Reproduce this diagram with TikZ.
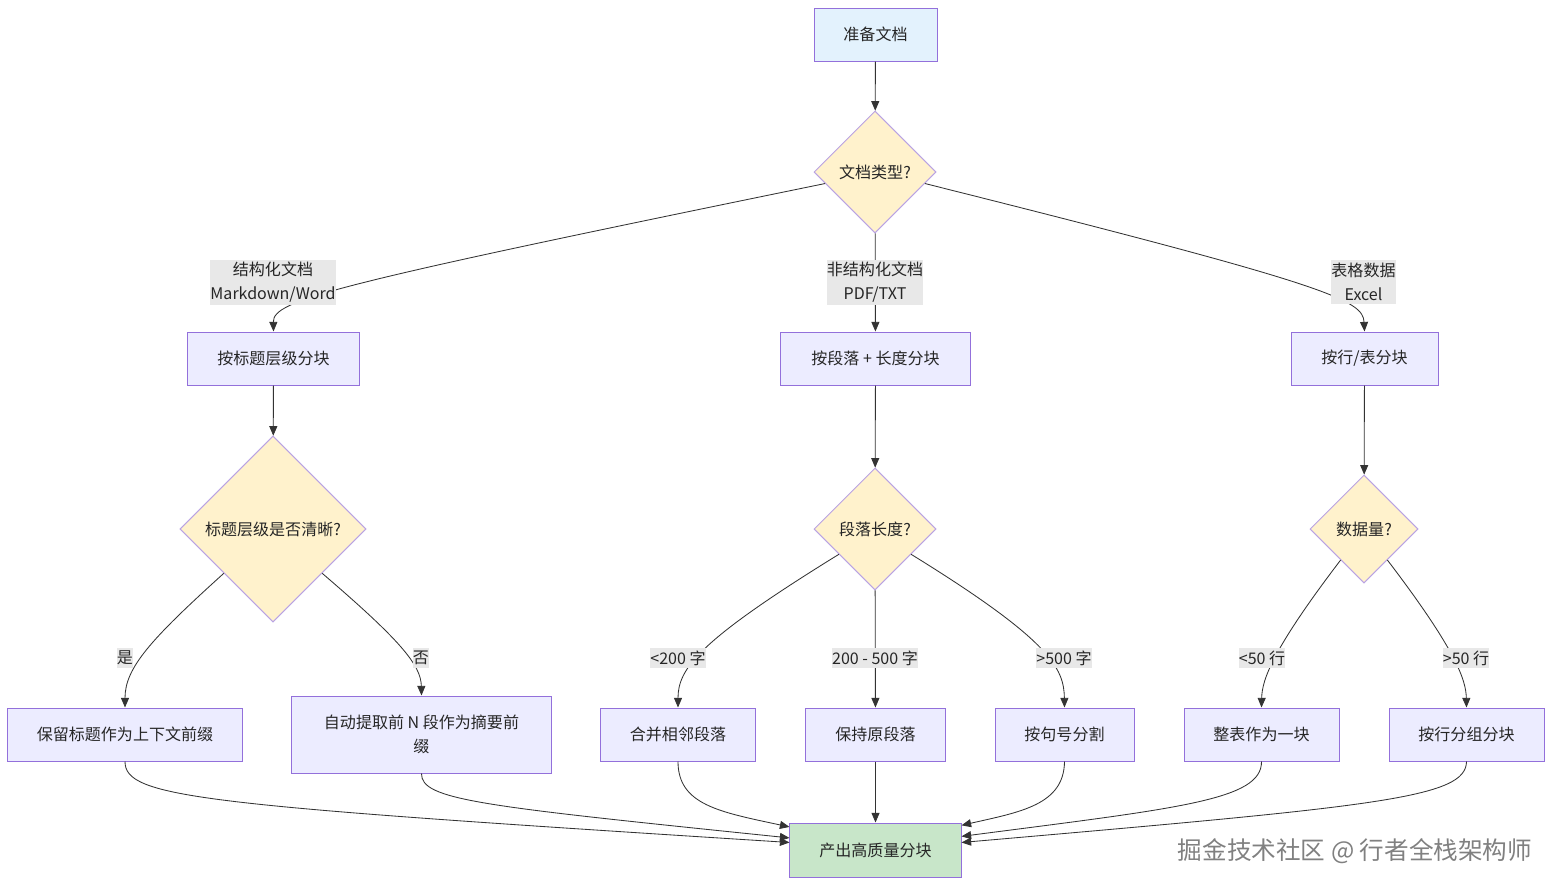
\documentclass[tikz,border=0pt]{standalone}
\usepackage{fontspec}
\setmainfont{Noto Sans CJK SC}
\usetikzlibrary{shapes.geometric,arrows.meta,calc}
\definecolor{rectfill}{HTML}{ECECFF}
\definecolor{rectline}{HTML}{9370DB}
\definecolor{startfill}{HTML}{E3F2FD}
\definecolor{diafill}{HTML}{FFF2CC}
\definecolor{dialine}{HTML}{B9A3E3}
\definecolor{endfill}{HTML}{C8E6C9}
\definecolor{lblfill}{HTML}{E8E8E8}
\definecolor{edgecol}{HTML}{333333}
\tikzset{
  base/.style={font=\fontsize{11.4}{17}\selectfont, text=black!85, line width=0.7pt},
  rectbox/.style={base, rectangle, draw=rectline, fill=rectfill, minimum height=1.325cm, inner sep=2pt},
  diabox/.style={base, diamond, aspect=1, draw=dialine, fill=diafill, inner sep=0pt},
  elabel/.style={font=\fontsize{11.4}{17}\selectfont, text=black!85, fill=lblfill, inner xsep=0pt, inner ysep=2pt, align=center},
  conn/.style={draw=edgecol, line width=0.6pt, -{Triangle[length=0.24cm,width=0.2cm]}},
}
\begin{document}
\begin{tikzpicture}[x=0.025cm, y=-0.025cm]
\useasboundingbox (0,0) rectangle (1560,890);
% nodes
\node[rectbox, fill=startfill, minimum width=3.075cm] (A) at (875.5,34.5) {准备文档};
\node[diabox, minimum width=3.05cm, minimum height=3.05cm] (B) at (875,172) {文档类型?};
\node[rectbox, minimum width=4.275cm] (C) at (273.5,358.5) {按标题层级分块};
\node[rectbox, minimum width=4.725cm] (D) at (875.5,358.5) {按段落 + 长度分块};
\node[rectbox, minimum width=3.675cm] (E) at (1364.5,358.5) {按行/表分块};
\node[diabox, minimum width=4.65cm, minimum height=4.65cm] (F) at (273,529) {标题层级是否清晰?};
\node[diabox, minimum width=3.05cm, minimum height=3.05cm] (G) at (875,529) {段落长度?};
\node[diabox, minimum width=2.7cm, minimum height=2.7cm] (H) at (1364,529) {数据量?};
\node[rectbox, minimum width=5.85cm] (I) at (125,734.5) {保留标题作为上下文前缀};
\node[rectbox, minimum width=6.475cm, minimum height=1.925cm, align=center] (J) at (421.5,734.5) {自动提取前 N 段作为摘要前\\缀};
\node[rectbox, minimum width=3.85cm] (K) at (678,734.5) {合并相邻段落};
\node[rectbox, minimum width=3.475cm] (L) at (875.5,734.5) {保持原段落};
\node[rectbox, minimum width=3.475cm] (M) at (1064.5,734.5) {按句号分割};
\node[rectbox, minimum width=3.875cm] (N) at (1261.5,734.5) {整表作为一块};
\node[rectbox, minimum width=3.875cm] (O) at (1466.5,734.5) {按行分组分块};
\node[rectbox, fill=endfill, minimum width=4.275cm, minimum height=1.35cm] (P) at (875.5,850) {产出高质量分块};
% edges
\draw[conn] (A) -- (B);
\draw[conn] (B.193) .. controls (330,285) and (273,300) .. (C.north);
\draw[conn] (B) -- (D);
\draw[conn] (B.347) .. controls (1330,285) and (1363,300) .. (E.north);
\draw[conn] (C) -- (F);
\draw[conn] (D) -- (G);
\draw[conn] (E) -- (H);
\draw[conn] (F.222) .. controls (150,640) and (125,668) .. (I.north);
\draw[conn] (F.318) .. controls (400,640) and (421,665) .. (J.north);
\draw[conn] (G.215) .. controls (700,640) and (678,668) .. (K.north);
\draw[conn] (G) -- (L);
\draw[conn] (G.325) .. controls (1050,640) and (1064,668) .. (M.north);
\draw[conn] (H.233) .. controls (1272,650) and (1262,680) .. (N.north);
\draw[conn] (H.307) .. controls (1456,650) and (1466,680) .. (O.north);
\draw[conn] (I.south) .. controls (125,798) and (200,805) .. (P.175);
\draw[conn] (J.south) .. controls (421,800) and (480,806) .. (P.172);
\draw[conn] (K.south) .. controls (678,805) and (720,812) .. (P.165);
\draw[conn] (L) -- (P);
\draw[conn] (M.south) .. controls (1064,805) and (1020,812) .. (P.16);
\draw[conn] (N.south) .. controls (1262,800) and (1180,808) .. (P.9);
\draw[conn] (O.south) .. controls (1466,798) and (1380,806) .. (P.5);
% edge labels
\node[elabel] (l1) at (273,282.5) {结构化文档\\Markdown/Word};
\node[elabel] (l2) at (875,282.5) {非结构化文档\\PDF/TXT};
\node[elabel] (l3) at (1363.5,282) {表格数据\\Excel};
\node[elabel] (l4) at (125,658) {是};
\node[elabel] (l5) at (421,658) {否};
\node[elabel] (l6) at (678,658) {<200 字};
\node[elabel] (l7) at (875,658) {200 - 500 字};
\node[elabel] (l8) at (1064,658) {>500 字};
\node[elabel] (l9) at (1262,658) {<50 行};
\node[elabel] (l10) at (1466,658) {>50 行};
% watermark
\node[font=\fontsize{17.5}{20}\selectfont, text=black!50] (wm) at (1355,851) {掘金技术社区 @ 行者全栈架构师};
\end{tikzpicture}
\end{document}
